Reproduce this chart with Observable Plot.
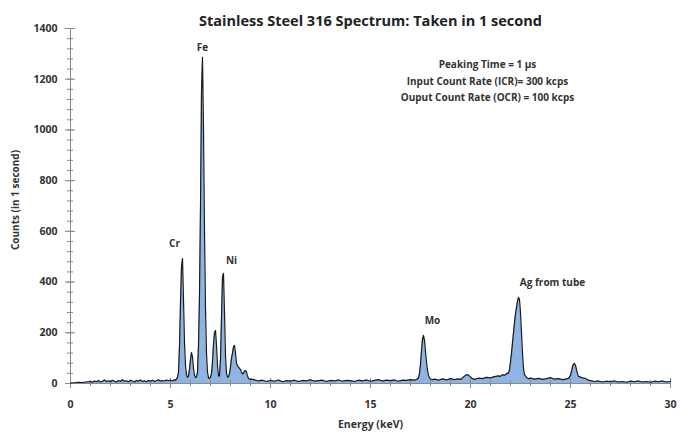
<!DOCTYPE html>
<html><head><meta charset="utf-8">
<script src="https://cdn.jsdelivr.net/npm/d3@7"></script>
<script src="https://cdn.jsdelivr.net/npm/@observablehq/plot@0.6"></script>
<style>body{margin:0;background:#fff}</style>
</head><body><div id="chart"></div>
<script>
const title = "Stainless Steel 316 Spectrum: Taken in 1 second";
const xLabel = "Energy (keV)";
const yLabel = "Counts (in 1 second)";
const annotationLines = ["Peaking Time = 1 µs", "Input Count Rate (ICR)= 300 kcps", "Ouput Count Rate (OCR) = 100 kcps"];
const xTicks = [0, 5, 10, 15, 20, 25, 30];
const yTicks = [0, 200, 400, 600, 800, 1000, 1200, 1400];

const peakLabels = ["Cr", "Fe", "Ni", "Mo", "Ag from tube"];
const peakEnergy = [5.6, 6.6, 7.65, 17.65, 22.4];
const peakCounts = [493, 1286, 434, 190, 340];

const energy = [
  0.0,0.2,0.4,0.6,0.8,1.0,1.1,1.2,1.3,1.4,1.5,1.6,1.7,1.8,1.9,
  2.0,2.1,2.2,2.3,2.4,2.5,2.6,2.7,2.8,2.9,
  3.0,3.1,3.2,3.3,3.4,3.5,3.6,3.7,3.8,3.9,
  4.0,4.1,4.2,4.3,4.4,4.5,4.6,4.7,4.8,4.9,
  5.0,5.1,5.2,5.25,5.3,5.35,5.4,5.45,5.5,5.55,5.6,5.65,5.7,5.75,5.8,5.85,5.9,5.95,
  6.0,6.05,6.1,6.15,6.2,6.25,6.3,6.35,6.4,6.45,6.5,6.55,6.6,6.65,6.7,6.75,6.8,6.85,6.9,6.95,
  7.0,7.05,7.1,7.15,7.2,7.25,7.3,7.35,7.4,7.45,7.5,7.55,7.6,7.65,7.7,7.75,7.8,7.85,7.9,7.95,
  8.0,8.05,8.1,8.15,8.2,8.25,8.3,8.35,8.4,8.45,8.5,8.55,8.6,8.65,8.7,8.75,8.8,8.85,8.9,8.95,
  9.0,9.2,9.4,9.6,9.8,10.0,10.2,10.4,10.6,10.8,11.0,11.2,11.4,11.6,11.8,12.0,12.2,12.4,12.6,12.8,
  13.0,13.2,13.4,13.6,13.8,14.0,14.2,14.4,14.6,14.8,15.0,15.2,15.4,15.6,15.8,16.0,16.2,16.4,16.6,16.8,
  17.0,17.2,17.3,
  17.4,17.45,17.5,17.55,17.6,17.65,17.7,17.75,17.8,17.85,17.9,17.95,18.0,18.1,
  18.2,18.4,18.6,18.8,19.0,19.2,19.4,19.5,19.6,19.7,19.8,19.9,20.0,20.1,20.2,20.4,20.6,20.8,21.0,21.2,21.4,21.5,21.6,21.7,21.8,21.9,
  21.95,22.0,22.05,22.1,22.15,22.2,22.25,22.3,22.35,22.4,22.45,22.5,22.55,22.6,22.65,22.7,22.8,22.9,
  23.0,23.2,23.4,23.6,23.8,24.0,24.2,24.4,24.6,24.8,24.9,
  25.0,25.05,25.1,25.15,25.2,25.25,25.3,25.35,25.4,25.5,25.6,25.7,25.8,25.9,
  26.0,26.2,26.4,26.6,26.8,27.0,27.2,27.4,27.6,27.8,28.0,28.2,28.4,28.6,28.8,29.0,29.2,29.4,29.6,29.8,30.0
];
const counts = [
  2,3,5,4,6,8,5,10,7,12,6,9,14,8,11,
  7,13,9,6,12,8,15,9,11,7,
  13,10,6,12,9,14,8,11,7,12,
  9,13,8,11,15,9,12,10,14,11,
  13,10,15,12,18,24,45,150,320,460,493,330,160,70,35,24,30,55,
  95,122,105,60,32,24,25,45,150,350,700,1150,1286,1000,600,300,120,45,22,20,
  24,40,85,155,200,209,150,70,30,30,95,260,420,434,280,110,40,25,26,40,
  65,100,120,145,150,120,80,70,65,60,55,45,38,40,48,51,45,30,20,16,
  18,14,10,13,8,12,9,14,7,11,9,13,8,12,10,15,9,11,13,8,
  12,10,14,9,12,11,8,13,10,14,9,12,15,10,13,11,14,9,13,12,
  15,13,16,
  22,40,75,130,175,190,170,125,85,52,32,22,18,15,
  17,13,18,14,19,15,18,16,22,29,35,33,26,19,16,21,19,24,22,27,30,28,35,32,38,42,
  55,85,120,160,200,240,275,300,325,340,330,280,200,120,60,35,24,19,
  21,17,20,16,19,23,17,19,15,18,20,
  32,48,66,76,79,72,55,38,28,25,22,21,18,13,
  11,8,10,6,9,7,10,6,8,5,9,7,10,6,8,5,9,7,10,6,8
];

const spectrum = energy.map((e, i) => ({e, c: counts[i]}));

// styling
const axisColor = "#8a8a8a";
const textColor = "#333";
const font = "'Open Sans', sans-serif";
const labelOffsets = {"Cr": [-8, -15], "Fe": [0, -10], "Ni": [8, -13], "Mo": [9, -15], "Ag from tube": [34, -14]};

const peakMarks = peakLabels.map((name, i) => Plot.text([i], {
  x: j => peakEnergy[j], y: j => peakCounts[j], text: j => peakLabels[j],
  dx: labelOffsets[name][0], dy: labelOffsets[name][1],
  fontSize: 10, fontWeight: 700, fill: textColor
}));

const yMinor = d3.range(0, 1401, 40);
const xMinor = d3.range(0, 31, 1);

const chart = Plot.plot({
  width: 680, height: 438,
  marginLeft: 70, marginRight: 10, marginTop: 28, marginBottom: 55,
  style: {fontFamily: font, fontSize: "10.5px", color: textColor, background: "#fff"},
  x: {domain: [0, 30], axis: null},
  y: {domain: [0, 1400], axis: null},
  marks: [
    Plot.areaY(spectrum, {x: "e", y: "c", fill: "#8db4e3"}),
    Plot.ruleX([0], {stroke: axisColor}),
    Plot.ruleY([0], {stroke: axisColor}),
    Plot.ruleY(yMinor, {y: d => d, x1: () => 0, x2: () => 0, insetLeft: -3, insetRight: -3, stroke: axisColor}),
    Plot.ruleY(yTicks, {y: d => d, x1: () => 0, x2: () => 0, insetLeft: -5, insetRight: -5, stroke: axisColor}),
    Plot.ruleX(xMinor, {x: d => d, y1: () => 0, y2: () => 0, insetTop: -3, insetBottom: -3, stroke: axisColor}),
    Plot.ruleX(xTicks, {x: d => d, y1: () => 0, y2: () => 0, insetTop: -5, insetBottom: -5, stroke: axisColor}),
    Plot.text(yTicks, {y: d => d, text: d => String(d), frameAnchor: "left", dx: -13, textAnchor: "end", fontSize: 10.5, fontWeight: 700, fill: textColor}),
    Plot.text(xTicks, {x: d => d, text: d => String(d), frameAnchor: "bottom", dy: 24, fontSize: 10.5, fontWeight: 700, fill: textColor}),
    Plot.lineY(spectrum, {x: "e", y: "c", stroke: "#1a1a1a", strokeWidth: 1.2}),
    ...peakMarks,
    Plot.text([title], {frameAnchor: "top", dy: -13, fontSize: 14.5, fontWeight: 700, fill: "#222"}),
    Plot.text([annotationLines.join("\n")], {frameAnchor: "top", dx: 117, dy: 51, lineAnchor: "middle", lineHeight: 1.65, fontSize: 10, fontWeight: 700, fill: textColor}),
    Plot.text([xLabel], {frameAnchor: "bottom", dy: 44, fontSize: 10.5, fontWeight: 700, fill: textColor}),
    Plot.text([yLabel], {frameAnchor: "left", dx: -55, dy: -6, rotate: -90, textAnchor: "middle", fontSize: 10, fontWeight: 700, fill: textColor})
  ]
});
document.getElementById("chart").append(chart);
</script></body></html>
